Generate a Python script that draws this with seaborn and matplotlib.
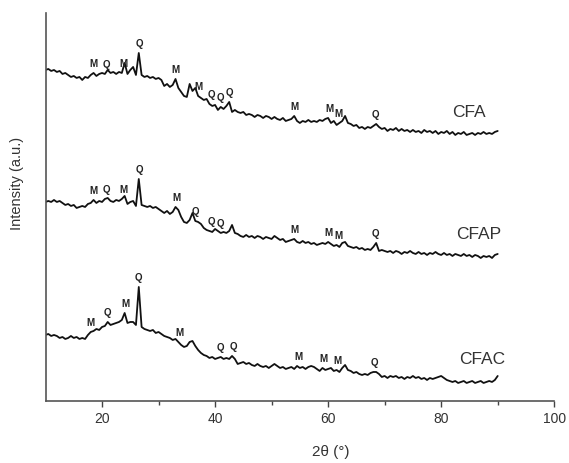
import numpy as np
import pandas as pd
import matplotlib
matplotlib.use("Agg")
import matplotlib.pyplot as plt
import seaborn as sns

# 2-theta measurement grid (degrees)
two_theta = np.arange(10.0, 90.01, 0.5)

# Intensities (a.u., already stacked)
cfa = [330, 331, 329, 330, 328, 329, 326, 327, 325, 323, 324, 322, 323, 320, 323, 322,
       325, 327, 324, 326, 327, 326, 330, 327, 328, 326, 328, 327, 337, 326, 330, 333,
       325, 347, 325, 323, 324, 322, 323, 321, 322, 320, 314, 316, 313, 315, 321, 312,
       308, 304, 303, 316, 309, 312, 304, 302, 300, 301, 296, 294, 295, 290, 293, 291,
       294, 298, 288, 290, 288, 287, 288, 285, 286, 285, 283, 285, 284, 282, 284, 283,
       281, 283, 281, 280, 282, 279, 280, 281, 284, 279, 277, 279, 278, 280, 278, 279,
       278, 280, 279, 281, 282, 277, 279, 275, 277, 279, 284, 277, 276, 274, 275, 272,
       273, 271, 273, 272, 274, 276, 273, 271, 272, 269, 271, 270, 272, 269, 271, 269,
       270, 268, 270, 268, 269, 267, 270, 268, 269, 267, 269, 266, 268, 267, 269, 266,
       268, 265, 267, 266, 268, 265, 266, 267, 265, 267, 266, 268, 266, 267, 266, 268,
       269]
cfap = [198, 199, 198, 200, 198, 199, 197, 195, 196, 194, 195, 192, 193, 194, 193, 196,
        197, 200, 197, 199, 198, 201, 202, 199, 198, 200, 199, 201, 204, 196, 198, 199,
        194, 221, 195, 194, 193, 194, 192, 193, 191, 189, 187, 189, 186, 188, 193, 190,
        183, 178, 177, 180, 187, 179, 178, 176, 172, 170, 169, 168, 171, 169, 167, 168,
        167, 169, 175, 167, 166, 164, 163, 165, 163, 164, 162, 164, 163, 161, 163, 162,
        161, 164, 162, 160, 161, 158, 159, 160, 161, 158, 157, 159, 157, 158, 156, 157,
        155, 156, 157, 156, 158, 156, 154, 155, 153, 157, 158, 154, 153, 152, 153, 151,
        152, 150, 151, 150, 153, 157, 149, 150, 149, 148, 149, 147, 149, 148, 146, 148,
        147, 149, 147, 146, 148, 146, 147, 145, 147, 146, 148, 146, 145, 147, 145, 146,
        144, 146, 145, 144, 146, 144, 145, 143, 145, 144, 142, 144, 143, 144, 142, 145,
        146]
cfac = [65, 66, 64, 65, 64, 62, 63, 61, 62, 64, 62, 63, 61, 62, 61, 65,
        68, 69, 71, 70, 73, 74, 78, 75, 76, 77, 78, 80, 87, 77, 78, 78,
        75, 113, 73, 71, 70, 69, 70, 67, 68, 66, 64, 63, 62, 60, 61, 58,
        55, 53, 54, 58, 59, 54, 50, 47, 45, 44, 42, 43, 41, 42, 43, 41,
        42, 41, 44, 41, 36, 37, 38, 36, 37, 35, 34, 36, 34, 33, 34, 32,
        34, 36, 34, 32, 33, 31, 32, 33, 31, 34, 32, 33, 31, 33, 34, 33,
        31, 29, 32, 30, 31, 32, 29, 30, 28, 32, 35, 30, 29, 27, 28, 26,
        25, 26, 25, 27, 28, 28, 26, 23, 24, 22, 24, 23, 24, 22, 23, 21,
        23, 22, 24, 22, 23, 21, 22, 20, 22, 21, 22, 23, 24, 22, 20, 19,
        18, 19, 17, 18, 19, 17, 18, 19, 17, 18, 19, 17, 18, 19, 18, 20,
        24]

sample_names = ["CFA", "CFAP", "CFAC"]

# Phase labels (M = mullite, Q = quartz) and their 2-theta positions
cfa_phase = ["M", "Q", "M", "Q", "M", "M", "Q", "Q", "Q", "M", "M", "M", "Q"]
cfa_pos = [18.4, 20.7, 23.7, 26.6, 33.0, 37.0, 39.3, 41.0, 42.6, 54.0, 60.2, 61.8, 68.3]
cfap_phase = ["M", "Q", "M", "Q", "M", "Q", "Q", "Q", "M", "M", "M", "Q"]
cfap_pos = [18.4, 20.7, 23.7, 26.6, 33.2, 36.5, 39.3, 41.0, 54.1, 60.0, 61.8, 68.4]
cfac_phase = ["M", "Q", "M", "Q", "M", "Q", "Q", "M", "M", "M", "Q"]
cfac_pos = [17.9, 20.9, 24.1, 26.5, 33.7, 41.0, 43.3, 54.7, 59.1, 61.6, 68.2]

x_ticks = [20, 40, 60, 80, 100]

# ---------------------------------------------------------------------------
sns.set_style("ticks")
plt.rcParams["font.family"] = ["Liberation Sans", "DejaVu Sans"]

fig = plt.figure(figsize=(5.69, 4.63), dpi=100)
ax = fig.add_axes([0.080, 0.1346, 0.894, 0.8374])

series = [cfa, cfap, cfac]
phases = [cfa_phase, cfap_phase, cfac_phase]
positions = [cfa_pos, cfap_pos, cfac_pos]
name_x = [84.9, 86.6, 87.2]

for name, vals, ph, pos, nx in zip(sample_names, series, phases, positions, name_x):
    df = pd.DataFrame({"two_theta": two_theta, "intensity": vals})
    sns.lineplot(data=df, x="two_theta", y="intensity", color="#111111",
                 linewidth=1.3, ax=ax, estimator=None, sort=False)
    arr = np.asarray(vals, dtype=float)
    for lab, p in zip(ph, pos):
        mask = np.abs(two_theta - p) <= 0.3
        top = arr[mask].max() if mask.any() else np.interp(p, two_theta, arr)
        ax.text(p, top + 3.5, lab, ha="center", va="bottom", fontsize=7,
                fontweight="bold", color="#222222")
    tail = arr[two_theta >= 80].mean()
    ax.text(nx, tail + 21, name, ha="center", va="center", fontsize=12.5,
            color="#333333")

ax.set_xlim(10, 100)
ax.set_ylim(-0.7, 387)
ax.set_xticks(x_ticks)
ax.set_xticks([30, 50, 70, 90], minor=True)
ax.set_yticks([])
ax.tick_params(axis="x", which="major", direction="out", length=4, width=1,
               labelsize=10, colors="#444444", labelcolor="#333333", pad=4)
ax.tick_params(axis="x", which="minor", direction="out", length=3, width=1,
               colors="#444444")
sns.despine(ax=ax, top=True, right=True)
for s in ["left", "bottom"]:
    ax.spines[s].set_color("#555555")
    ax.spines[s].set_linewidth(1.2)

ax.set_xlabel("2θ (°)", fontsize=11, color="#333333")
ax.xaxis.set_label_coords(0.56, -0.115)
ax.set_ylabel("Intensity (a.u.)", fontsize=10.5, color="#333333")
ax.yaxis.set_label_coords(-0.042, 0.56)

fig.savefig("out.png", dpi=100)
